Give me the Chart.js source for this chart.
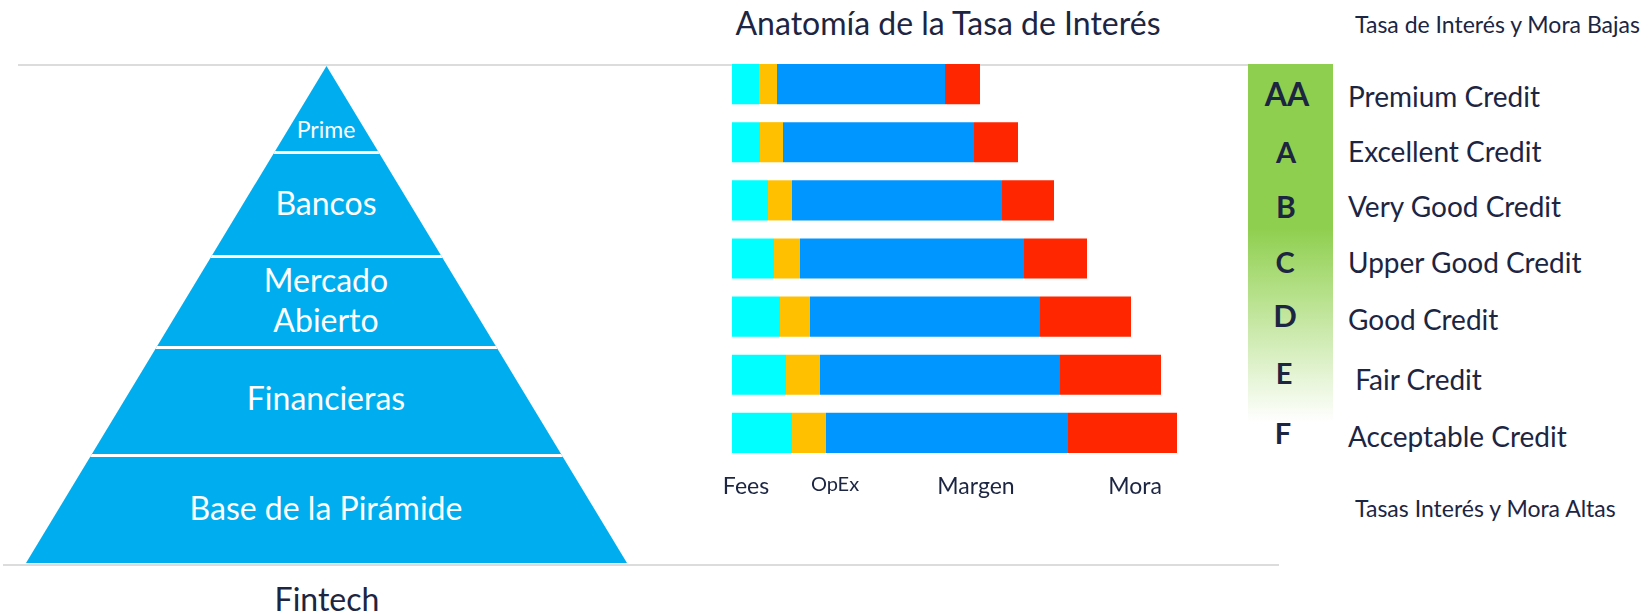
<!DOCTYPE html>
<html lang="es">
<head>
<meta charset="utf-8">
<title>Anatomía de la Tasa de Interés</title>
<script src="https://cdn.jsdelivr.net/npm/chart.js@4.4.1/dist/chart.umd.min.js"></script>
<style>
  html, body { margin: 0; padding: 0; background: #fff; }
  body { width: 1647px; height: 613px; position: relative; overflow: hidden; font-family: 'Lato', sans-serif; color: #1c2542; }
  .abs { position: absolute; white-space: nowrap; line-height: 1; }
  .c { transform: translate(-50%, -50%); }
  .l { transform: translateY(-50%); }
  .rule { position: absolute; height: 2px; background: #dcdcdc; }
  .pyramid {
    position: absolute; left: 26px; top: 66px; width: 601px; height: 497px;
    background: #00aeef;
    clip-path: polygon(50% 0, 100% 100%, 0 100%);
  }
  .pyramid .cut { position: absolute; left: 0; width: 100%; height: 3px; background: #fff; }
  .pyramid .abs { color: #fff; }
  .grades {
    position: absolute; left: 1248px; top: 64px; width: 85px; height: 358px;
    background: linear-gradient(to bottom, #8fcf4f 0%, #8fcf4f 46%, #b9e28f 66%, #ffffff 100%);
  }
  .g { font-weight: bold; }
  #chartBox { position: absolute; left: 700px; top: 40px; width: 500px; height: 470px; }
</style>
</head>
<body>

<div class="rule" style="left:18px; top:64px; width:1230px;"></div>
<div class="rule" style="left:3px; top:564px; width:1276px;"></div>

<!-- pyramid -->
<div class="pyramid">
  <div class="cut" style="top:85px;"></div>
  <div class="cut" style="top:189px;"></div>
  <div class="cut" style="top:280px;"></div>
  <div class="cut" style="top:388px;"></div>
  <div class="abs c" style="left:300px; top:63px; font-size:23px;">Prime</div>
  <div class="abs c" style="left:300px; top:137px; font-size:32px;">Bancos</div>
  <div class="abs c" style="left:300px; top:214px; font-size:32px;">Mercado</div>
  <div class="abs c" style="left:300px; top:254px; font-size:32px;">Abierto</div>
  <div class="abs c" style="left:300px; top:332px; font-size:32px;">Financieras</div>
  <div class="abs c" style="left:300px; top:442px; font-size:32px;">Base de la Pirámide</div>
</div>
<div class="abs c" style="left:327px; top:599px; font-size:32px;">Fintech</div>

<!-- title -->
<div class="abs c" style="left:948px; top:23px; font-size:32px;">Anatomía de la Tasa de Interés</div>

<!-- grades -->
<div class="grades"></div>
<div class="abs c g" style="left:1287px; top:94px; font-size:32px;">AA</div>
<div class="abs c g" style="left:1286px; top:151px; font-size:29px;">A</div>
<div class="abs c g" style="left:1286px; top:206px; font-size:30px;">B</div>
<div class="abs c g" style="left:1285px; top:261px; font-size:29px;">C</div>
<div class="abs c g" style="left:1285px; top:315px; font-size:31px;">D</div>
<div class="abs c g" style="left:1284px; top:372px; font-size:29px;">E</div>
<div class="abs c g" style="left:1283px; top:432px; font-size:29px;">F</div>

<div class="abs l" style="left:1355px; top:24px; font-size:23px;">Tasa de Interés y Mora Bajas</div>
<div class="abs l" style="left:1348px; top:96px; font-size:28px;">Premium Credit</div>
<div class="abs l" style="left:1348px; top:151px; font-size:28px;">Excellent Credit</div>
<div class="abs l" style="left:1348px; top:206px; font-size:28px;">Very Good Credit</div>
<div class="abs l" style="left:1348px; top:262px; font-size:28px;">Upper Good Credit</div>
<div class="abs l" style="left:1348px; top:319px; font-size:28px;">Good Credit</div>
<div class="abs l" style="left:1348px; top:379px; font-size:28px;">&nbsp;Fair Credit</div>
<div class="abs l" style="left:1348px; top:436px; font-size:28px;">Acceptable Credit</div>
<div class="abs l" style="left:1355px; top:508px; font-size:23px;">Tasas Interés y Mora Altas</div>

<div id="chartBox"><canvas id="rateChart"></canvas></div>

<script>
// rate components per credit grade (percentage points)
const grades = ['AA', 'A', 'B', 'C', 'D', 'E', 'F'];
const seriesNames = ['Fees', 'OpEx', 'Margen', 'Mora'];
const fees = [2.7, 2.8, 3.6, 4.2, 4.8, 5.4, 6.0];
const opex = [1.8, 2.3, 2.4, 2.6, 3.0, 3.4, 3.4];
const margen = [16.8, 19.1, 21.0, 22.4, 23.0, 24.0, 24.2];
const mora = [3.5, 4.4, 5.2, 6.3, 9.1, 10.1, 10.9];
const labelTicks = [1.4, 10.3, 24.4, 40.3];
const seriesColors = ['#00ffff', '#ffc000', '#0096ff', '#ff2600'];

const textColor = '#1c2542';

function makeDataset(name, values, color) {
    return {
        label: name,
        data: values,
        backgroundColor: color,
        borderWidth: 0,
        barPercentage: 0.69,
        categoryPercentage: 1
    };
}

const ctx = document.getElementById('rateChart');
new Chart(ctx, {
    type: 'bar',
    data: {
        labels: grades,
        datasets: [
            makeDataset(seriesNames[0], fees, seriesColors[0]),
            makeDataset(seriesNames[1], opex, seriesColors[1]),
            makeDataset(seriesNames[2], margen, seriesColors[2]),
            makeDataset(seriesNames[3], mora, seriesColors[3])
        ]
    },
    options: {
        indexAxis: 'y',
        responsive: true,
        maintainAspectRatio: false,
        animation: false,
        layout: { padding: { left: 32, top: 15, right: 0, bottom: 0 } },
        plugins: {
            legend: { display: false },
            tooltip: { enabled: false }
        },
        scales: {
            x: {
                stacked: true,
                min: 0,
                max: 46.8,
                grid: { display: false, drawTicks: false },
                border: { display: false },
                afterBuildTicks: (axis) => {
                    axis.ticks = labelTicks.map(v => ({ value: v }));
                },
                afterFit: (axis) => { axis.height = 48; },
                ticks: {
                    autoSkip: false,
                    maxRotation: 0,
                    padding: 11,
                    color: textColor,
                    font: (c) => ({ family: 'Lato', size: c.index === 1 ? 20 : 23 }),
                    callback: (value, index) => seriesNames[index]
                }
            },
            y: {
                stacked: true,
                display: false
            }
        }
    }
});
</script>
</body>
</html>
